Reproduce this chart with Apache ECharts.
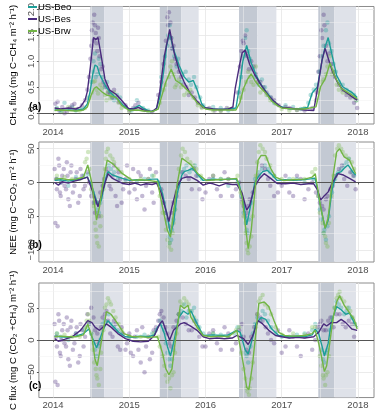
<!DOCTYPE html>
<html>
<head>
<meta charset="UTF-8">
<title>Flux panels</title>
<script src="https://cdn.jsdelivr.net/npm/echarts@6/dist/echarts.min.js"></script>
<style>
  html, body { margin: 0; padding: 0; background: #fff; }
  #main { width: 375px; height: 413px; }
</style>
</head>
<body>
<div id="main"></div>
<script>
// sites
var sites = ['US-Beo', 'US-Bes', 'US-Brw'];
var siteColors = ['#1c9e98', '#4a2b7d', '#72b545'];
var yearTicks = [2014, 2015, 2016, 2017, 2018];
var halfYears = [2014.5, 2015.5, 2016.5, 2017.5];

// growing season bands (decimal years): dark = peak, light = late season
var darkBands = [[2014.488, 2014.67], [2015.40, 2015.68], [2016.44, 2016.68], [2017.48, 2017.69]];
var lightBands = [[2014.67, 2014.917], [2015.68, 2015.91], [2016.68, 2016.93], [2017.69, 2017.975]];

// panel (a) CH4 flux, smoothed lines
var aBeo = [[2014.02,0.06],[2014.1,0.05],[2014.2,0.06],[2014.3,0.05],[2014.4,0.08],[2014.45,0.18],[2014.49,0.45],[2014.52,0.75],[2014.55,0.93],[2014.58,0.9],[2014.61,0.75],[2014.66,0.6],[2014.7,0.5],[2014.74,0.42],[2014.8,0.33],[2014.86,0.25],[2014.92,0.15],[2015.0,0.07],[2015.07,0.1],[2015.13,0.15],[2015.2,0.08],[2015.28,0.03],[2015.35,0.06],[2015.4,0.3],[2015.45,0.8],[2015.49,1.3],[2015.53,1.56],[2015.56,1.35],[2015.59,1.19],[2015.655,0.92],[2015.72,0.7],[2015.78,0.6],[2015.84,0.63],[2015.89,0.45],[2015.95,0.18],[2016.0,0.1],[2016.1,0.08],[2016.2,0.07],[2016.3,0.08],[2016.4,0.1],[2016.45,0.55],[2016.49,1.0],[2016.54,1.31],[2016.6,0.97],[2016.66,0.75],[2016.71,0.6],[2016.79,0.42],[2016.87,0.27],[2016.96,0.14],[2017.05,0.1],[2017.13,0.08],[2017.25,0.09],[2017.34,0.11],[2017.4,0.39],[2017.47,0.51],[2017.53,1.03],[2017.57,1.28],[2017.61,1.46],[2017.655,1.16],[2017.72,0.73],[2017.8,0.51],[2017.93,0.39],[2017.99,0.3]];
var aBes = [[2014.02,0.1],[2014.1,0.08],[2014.2,0.1],[2014.3,0.08],[2014.36,0.12],[2014.42,0.25],[2014.45,0.42],[2014.49,0.9],[2014.53,1.46],[2014.56,1.42],[2014.59,1.46],[2014.64,1.03],[2014.68,0.66],[2014.74,0.45],[2014.83,0.36],[2014.91,0.23],[2014.99,0.09],[2015.06,0.08],[2015.12,0.11],[2015.2,0.05],[2015.3,0.03],[2015.36,0.1],[2015.4,0.42],[2015.46,1.1],[2015.53,1.62],[2015.59,1.16],[2015.655,0.82],[2015.72,0.6],[2015.8,0.38],[2015.89,0.23],[2015.97,0.11],[2016.1,0.08],[2016.2,0.07],[2016.3,0.08],[2016.36,0.12],[2016.39,0.48],[2016.45,0.95],[2016.48,1.16],[2016.52,1.22],[2016.58,0.94],[2016.64,0.76],[2016.73,0.54],[2016.83,0.33],[2016.92,0.2],[2017.0,0.11],[2017.1,0.1],[2017.2,0.08],[2017.3,0.06],[2017.42,0.05],[2017.47,0.48],[2017.53,1.03],[2017.57,1.25],[2017.61,1.06],[2017.655,0.85],[2017.72,0.63],[2017.8,0.45],[2017.91,0.33],[2017.99,0.25]];
var aBrw = [[2014.02,0.05],[2014.1,0.06],[2014.2,0.05],[2014.3,0.04],[2014.4,0.06],[2014.45,0.12],[2014.5,0.35],[2014.54,0.48],[2014.57,0.51],[2014.61,0.45],[2014.65,0.4],[2014.7,0.35],[2014.75,0.33],[2014.83,0.3],[2014.9,0.15],[2015.0,0.05],[2015.1,0.06],[2015.2,0.04],[2015.3,0.03],[2015.38,0.08],[2015.42,0.3],[2015.48,0.6],[2015.55,0.85],[2015.61,0.63],[2015.675,0.57],[2015.78,0.42],[2015.89,0.2],[2016.0,0.08],[2016.1,0.06],[2016.25,0.06],[2016.4,0.06],[2016.45,0.2],[2016.5,0.48],[2016.55,0.65],[2016.6,0.76],[2016.65,0.62],[2016.71,0.51],[2016.79,0.39],[2016.87,0.23],[2016.95,0.14],[2017.0,0.1],[2017.15,0.08],[2017.3,0.08],[2017.45,0.12],[2017.51,0.51],[2017.57,0.66],[2017.635,0.97],[2017.7,0.7],[2017.78,0.48],[2017.91,0.36],[2017.99,0.28]];

// panel (a) daily points
var aBeoPts = [[2014.05,0.1],[2014.15,0.2],[2014.3,0.05],[2014.45,0.3],[2014.52,0.8],[2014.55,1.15],[2014.58,0.75],[2014.62,0.95],[2014.68,0.5],[2014.74,0.4],[2014.8,0.25],[2014.88,0.3],[2015.1,0.25],[2015.18,0.1],[2015.42,0.7],[2015.5,1.3],[2015.53,1.7],[2015.57,1.25],[2015.62,0.9],[2015.7,0.75],[2015.78,0.65],[2015.85,0.7],[2015.93,0.3],[2016.1,0.12],[2016.3,0.05],[2016.47,0.7],[2016.52,1.45],[2016.56,1.2],[2016.62,0.85],[2016.7,0.55],[2016.78,0.5],[2016.85,0.3],[2017.05,0.15],[2017.25,0.08],[2017.38,0.35],[2017.45,0.55],[2017.52,1.1],[2017.58,1.6],[2017.62,1.35],[2017.68,0.95],[2017.75,0.6],[2017.85,0.45],[2017.95,0.35],
  [2014.1,0.02],[2014.25,0.12],[2014.38,0.08],[2014.5,0.6],[2014.53,1.0],[2014.56,0.7],[2014.6,1.05],[2014.65,0.7],[2014.71,0.6],[2014.77,0.3],[2014.84,0.35],[2014.95,0.12],[2015.03,0.05],[2015.25,0.05],[2015.47,1.1],[2015.51,1.5],[2015.55,1.45],[2015.59,1.1],[2015.64,1.05],[2015.68,0.6],[2015.74,0.8],[2015.81,0.55],[2015.88,0.5],[2015.97,0.15],[2016.2,0.1],[2016.44,0.4],[2016.5,1.1],[2016.54,1.6],[2016.58,1.05],[2016.65,0.7],[2016.74,0.65],[2016.82,0.35],[2016.9,0.2],[2017.15,0.12],[2017.35,0.2],[2017.42,0.45],[2017.49,0.8],[2017.55,1.3],[2017.6,1.75],[2017.65,1.2],[2017.71,0.8],[2017.8,0.55],[2017.9,0.4],[2017.98,0.25]];
var aBesPts = [[2014.03,0.18],[2014.08,0.05],[2014.12,0.12],[2014.18,0.02],[2014.25,0.15],[2014.32,0.08],[2014.42,0.25],[2014.47,0.7],[2014.5,1.3],[2014.52,1.75],[2014.54,1.9],[2014.56,1.55],[2014.58,1.2],[2014.6,1.45],[2014.63,0.85],[2014.66,0.6],[2014.7,0.5],[2014.75,0.38],[2014.8,0.45],[2014.86,0.22],[2014.95,0.15],[2015.05,0.1],[2015.12,0.2],[2015.2,0.06],[2015.38,0.35],[2015.45,0.95],[2015.5,1.85],[2015.52,1.95],[2015.55,1.45],[2015.58,1.3],[2015.62,0.95],[2015.68,0.7],[2015.75,0.5],[2015.82,0.4],[2015.9,0.2],[2016.05,0.1],[2016.2,0.05],[2016.35,0.08],[2016.45,0.9],[2016.49,1.4],[2016.52,1.5],[2016.55,1.1],[2016.6,1.0],[2016.66,0.75],[2016.72,0.6],[2016.8,0.4],[2016.9,0.25],[2017.05,0.12],[2017.2,0.06],[2017.4,0.1],[2017.48,0.8],[2017.52,1.6],[2017.55,1.9],[2017.58,1.3],[2017.62,1.15],[2017.68,0.8],[2017.75,0.55],[2017.85,0.35],[2017.95,0.2],[2017.99,0.1],
  [2014.06,0.22],[2014.15,0.0],[2014.22,0.1],[2014.28,0.18],[2014.38,0.15],[2014.45,0.45],[2014.49,1.05],[2014.51,1.6],[2014.53,1.4],[2014.55,1.7],[2014.57,1.35],[2014.59,1.65],[2014.61,1.1],[2014.65,0.9],[2014.68,0.55],[2014.72,0.4],[2014.78,0.3],[2014.84,0.3],[2014.9,0.18],[2015.0,0.05],[2015.08,0.15],[2015.15,0.08],[2015.3,0.02],[2015.42,0.6],[2015.48,1.4],[2015.51,1.7],[2015.54,1.75],[2015.56,1.25],[2015.6,1.05],[2015.65,0.8],[2015.71,0.55],[2015.78,0.35],[2015.86,0.3],[2015.95,0.12],[2016.12,0.05],[2016.28,0.1],[2016.42,0.4],[2016.47,1.2],[2016.5,1.35],[2016.53,1.15],[2016.57,0.85],[2016.63,0.9],[2016.69,0.6],[2016.76,0.5],[2016.86,0.3],[2016.96,0.15],[2017.1,0.1],[2017.3,0.05],[2017.46,0.4],[2017.5,1.1],[2017.53,1.45],[2017.56,1.7],[2017.6,1.0],[2017.65,0.95],[2017.7,0.7],[2017.8,0.45],[2017.9,0.3]];
var aBrwPts = [[2014.05,0.08],[2014.2,0.12],[2014.35,0.05],[2014.48,0.3],[2014.53,0.6],[2014.57,0.45],[2014.62,0.55],[2014.68,0.35],[2014.75,0.28],[2014.8,0.4],[2014.9,0.1],[2015.1,0.08],[2015.25,0.02],[2015.45,0.45],[2015.52,0.7],[2015.56,1.0],[2015.6,0.5],[2015.65,0.65],[2015.72,0.35],[2015.8,0.45],[2015.9,0.15],[2016.1,0.05],[2016.3,0.08],[2016.5,0.45],[2016.56,0.8],[2016.6,0.6],[2016.66,0.9],[2016.72,0.4],[2016.8,0.35],[2016.92,0.18],[2017.1,0.05],[2017.3,0.1],[2017.45,0.25],[2017.52,0.6],[2017.58,0.75],[2017.63,1.1],[2017.68,0.8],[2017.75,0.45],[2017.85,0.4],[2017.95,0.3],
  [2014.12,0.04],[2014.28,0.08],[2014.42,0.1],[2014.51,0.4],[2014.55,0.62],[2014.59,0.38],[2014.64,0.48],[2014.7,0.25],[2014.72,0.42],[2014.78,0.35],[2014.86,0.2],[2015.0,0.03],[2015.18,0.06],[2015.4,0.2],[2015.48,0.55],[2015.54,0.9],[2015.58,0.75],[2015.62,0.55],[2015.68,0.5],[2015.76,0.4],[2015.84,0.3],[2015.95,0.1],[2016.2,0.04],[2016.46,0.3],[2016.53,0.6],[2016.58,0.7],[2016.63,0.55],[2016.69,0.6],[2016.76,0.45],[2016.85,0.25],[2017.0,0.08],[2017.2,0.06],[2017.48,0.45],[2017.55,0.65],[2017.6,0.9],[2017.66,0.75],[2017.72,0.55],[2017.8,0.4],[2017.9,0.35],[2017.98,0.25]];

// panel (b) NEE, smoothed lines
var bBeo = [[2014.02,3],[2014.1,4],[2014.2,2],[2014.3,4],[2014.4,6],[2014.45,8],[2014.51,-6],[2014.59,-34],[2014.635,-26],[2014.68,1],[2014.72,16],[2014.78,11],[2014.91,6],[2015.0,3],[2015.1,4],[2015.2,3],[2015.3,5],[2015.37,5],[2015.435,-16],[2015.5,-51],[2015.54,-76],[2015.58,-61],[2015.63,-16],[2015.69,11],[2015.72,16],[2015.77,18],[2015.83,21],[2015.89,13],[2015.97,3],[2016.1,5],[2016.2,4],[2016.3,5],[2016.4,5],[2016.44,-1.5],[2016.5,-31],[2016.54,-63],[2016.58,-41],[2016.645,-1.5],[2016.69,8],[2016.75,16],[2016.81,18],[2016.875,11],[2016.94,3],[2017.05,4],[2017.15,3],[2017.25,4],[2017.35,5],[2017.44,6],[2017.51,-36],[2017.57,-68],[2017.61,-56],[2017.66,-11],[2017.72,13],[2017.78,16],[2017.82,21],[2017.87,26],[2017.93,16],[2017.97,11]];
var bBes = [[2014.02,0],[2014.07,-4],[2014.12,1],[2014.2,-1],[2014.28,2],[2014.35,4],[2014.4,6],[2014.45,8],[2014.51,-11],[2014.59,-36],[2014.66,-9],[2014.72,13],[2014.78,6],[2014.85,2],[2014.91,-1.5],[2015.0,-3],[2015.08,-1],[2015.15,-4],[2015.22,-2],[2015.3,-3],[2015.36,-1],[2015.42,-16],[2015.48,-41],[2015.52,-58],[2015.56,-36],[2015.63,-6],[2015.69,6],[2015.75,8],[2015.81,8],[2015.89,3],[2015.97,-4],[2016.05,-1],[2016.1,-2],[2016.18,-5],[2016.27,-1.5],[2016.35,-3],[2016.41,-3],[2016.48,-16],[2016.54,-41],[2016.58,-34],[2016.645,-6],[2016.71,6],[2016.77,13],[2016.855,6],[2016.94,-1.5],[2017.05,-2],[2017.15,-1],[2017.25,-3],[2017.35,-2],[2017.42,-2],[2017.47,-11],[2017.51,-26],[2017.55,-21],[2017.61,-14],[2017.67,1],[2017.74,13],[2017.81,11],[2017.89,6],[2017.97,1]];
var bBrw = [[2014.02,5],[2014.1,6],[2014.2,4],[2014.3,5],[2014.4,8],[2014.455,26],[2014.51,-1.5],[2014.57,-56],[2014.61,-36],[2014.66,3],[2014.71,33],[2014.78,28],[2014.91,13],[2015.04,3],[2015.15,4],[2015.25,3],[2015.37,1],[2015.435,-36],[2015.5,-71],[2015.54,-81],[2015.58,-46],[2015.63,-1.5],[2015.69,36],[2015.75,31],[2015.81,26],[2015.9,13],[2016.01,3],[2016.15,4],[2016.3,5],[2016.41,6],[2016.48,-21],[2016.52,-61],[2016.56,-98],[2016.6,-71],[2016.645,-16],[2016.69,33],[2016.73,40],[2016.79,40],[2016.855,21],[2016.92,8],[2017.02,3],[2017.15,4],[2017.3,5],[2017.4,8],[2017.44,13],[2017.51,-36],[2017.57,-68],[2017.61,-52],[2017.66,-1.5],[2017.72,45],[2017.76,50],[2017.82,38],[2017.89,33],[2017.97,13]];

// panel (b) daily points
var bBeoPts = [[2014.05,5],[2014.2,-5],[2014.4,10],[2014.52,-15],[2014.58,-40],[2014.62,-30],[2014.7,10],[2014.76,20],[2014.85,5],[2015.1,0],[2015.3,10],[2015.45,-30],[2015.5,-60],[2015.53,-90],[2015.56,-70],[2015.6,-40],[2015.68,15],[2015.75,25],[2015.82,20],[2015.9,10],[2016.1,5],[2016.3,-5],[2016.47,-20],[2016.52,-60],[2016.55,-75],[2016.6,-30],[2016.7,15],[2016.78,25],[2016.85,15],[2017.1,5],[2017.3,0],[2017.5,-40],[2017.55,-75],[2017.58,-85],[2017.62,-50],[2017.7,5],[2017.78,20],[2017.85,30],[2017.92,15],
  [2014.1,0],[2014.3,8],[2014.46,12],[2014.55,-30],[2014.6,-45],[2014.66,-5],[2014.73,25],[2014.8,15],[2014.95,3],[2015.2,5],[2015.38,0],[2015.48,-45],[2015.52,-80],[2015.55,-85],[2015.58,-55],[2015.64,-5],[2015.72,20],[2015.79,15],[2015.86,25],[2015.95,5],[2016.2,5],[2016.42,0],[2016.5,-45],[2016.54,-70],[2016.57,-55],[2016.65,5],[2016.74,20],[2016.82,20],[2016.9,10],[2017.2,5],[2017.42,5],[2017.52,-55],[2017.56,-70],[2017.6,-65],[2017.66,-15],[2017.74,15],[2017.82,25],[2017.88,35],[2017.95,10]];
var bBesPts = [[2014.02,20],[2014.05,-10],[2014.08,25],[2014.1,-20],[2014.12,10],[2014.15,-5],[2014.18,30],[2014.2,-25],[2014.23,15],[2014.26,-15],[2014.3,5],[2014.33,-30],[2014.36,20],[2014.4,-10],[2014.03,-60],[2014.06,-65],[2014.45,15],[2014.5,-20],[2014.55,-45],[2014.58,-30],[2014.62,-15],[2014.67,5],[2014.7,20],[2014.74,-5],[2014.78,10],[2014.82,-20],[2014.86,15],[2014.9,-30],[2014.95,5],[2015.0,-15],[2015.05,20],[2015.1,-25],[2015.15,10],[2015.2,-40],[2015.25,5],[2015.3,-15],[2015.35,15],[2015.45,-30],[2015.5,-55],[2015.55,-45],[2015.62,-20],[2015.7,15],[2015.78,5],[2015.85,20],[2015.92,-10],[2016.0,-15],[2016.1,10],[2016.2,-20],[2016.3,5],[2016.4,-10],[2016.48,-25],[2016.52,-50],[2016.56,-35],[2016.62,-15],[2016.7,10],[2016.78,20],[2016.85,-5],[2016.95,-15],[2017.05,10],[2017.15,-20],[2017.25,5],[2017.35,-10],[2017.45,-15],[2017.5,-30],[2017.55,-40],[2017.6,-20],[2017.67,-5],[2017.75,20],[2017.82,5],[2017.9,15],[2017.97,-10],
  [2014.04,5],[2014.07,35],[2014.09,-15],[2014.11,0],[2014.14,20],[2014.17,-10],[2014.19,10],[2014.22,-35],[2014.24,25],[2014.28,-5],[2014.31,15],[2014.35,-20],[2014.38,10],[2014.42,-5],[2014.47,0],[2014.53,-30],[2014.6,-50],[2014.65,-5],[2014.72,15],[2014.76,-10],[2014.8,25],[2014.84,-35],[2014.88,5],[2014.92,-10],[2014.97,25],[2015.02,0],[2015.07,-10],[2015.12,15],[2015.17,-20],[2015.22,-5],[2015.27,20],[2015.32,-30],[2015.38,0],[2015.42,-10],[2015.48,-45],[2015.52,-65],[2015.58,-30],[2015.65,0],[2015.74,10],[2015.82,-10],[2015.88,10],[2015.96,-25],[2016.05,5],[2016.15,-10],[2016.25,15],[2016.35,-20],[2016.44,0],[2016.5,-35],[2016.54,-45],[2016.58,-25],[2016.66,0],[2016.74,25],[2016.82,5],[2016.9,-20],[2017.0,-5],[2017.1,-15],[2017.2,10],[2017.3,-25],[2017.4,0],[2017.48,-20],[2017.53,-35],[2017.58,-25],[2017.64,-10],[2017.71,10],[2017.79,25],[2017.86,-5],[2017.94,10]];
var bBrwPts = [[2014.05,10],[2014.25,5],[2014.42,30],[2014.46,45],[2014.5,-10],[2014.55,-60],[2014.57,-80],[2014.6,-95],[2014.63,-50],[2014.68,20],[2014.7,45],[2014.75,40],[2014.8,30],[2014.9,15],[2015.15,5],[2015.32,10],[2015.4,-20],[2015.48,-70],[2015.52,-95],[2015.55,-100],[2015.58,-60],[2015.62,-15],[2015.68,40],[2015.73,45],[2015.8,30],[2015.88,20],[2016.1,10],[2016.3,5],[2016.46,-15],[2016.5,-50],[2016.54,-90],[2016.56,-105],[2016.6,-80],[2016.66,10],[2016.7,45],[2016.75,50],[2016.8,35],[2016.9,10],[2017.15,5],[2017.4,15],[2017.48,-20],[2017.53,-60],[2017.57,-80],[2017.6,-95],[2017.65,-20],[2017.7,40],[2017.75,55],[2017.8,45],[2017.88,35],[2017.95,20],
  [2014.15,8],[2014.35,5],[2014.44,35],[2014.48,20],[2014.53,-35],[2014.56,-70],[2014.58,-90],[2014.62,-65],[2014.66,-10],[2014.69,35],[2014.72,50],[2014.78,35],[2014.85,20],[2015.0,5],[2015.25,5],[2015.38,0],[2015.44,-45],[2015.5,-85],[2015.53,-90],[2015.57,-75],[2015.6,-40],[2015.65,20],[2015.7,50],[2015.76,35],[2015.84,25],[2015.94,10],[2016.2,5],[2016.42,10],[2016.48,-30],[2016.52,-75],[2016.55,-100],[2016.58,-95],[2016.62,-50],[2016.68,30],[2016.72,55],[2016.78,45],[2016.85,25],[2017.0,5],[2017.3,5],[2017.44,20],[2017.5,-45],[2017.55,-75],[2017.58,-90],[2017.62,-60],[2017.68,10],[2017.73,50],[2017.78,50],[2017.84,40],[2017.92,30]];

// panel (c) C flux, smoothed lines
var cBeo = [[2014.02,6],[2014.1,5],[2014.2,4],[2014.3,6],[2014.4,10],[2014.47,17],[2014.51,5],[2014.57,-12],[2014.61,0],[2014.66,17],[2014.72,30],[2014.78,22],[2014.86,12],[2014.95,5],[2015.05,4],[2015.15,6],[2015.25,5],[2015.33,8],[2015.37,20],[2015.41,25],[2015.46,10],[2015.5,-10],[2015.54,-25],[2015.58,-5],[2015.65,35],[2015.71,45],[2015.77,40],[2015.81,45],[2015.89,25],[2015.97,7],[2016.1,8],[2016.2,7],[2016.3,8],[2016.41,15],[2016.455,12],[2016.52,-15],[2016.56,-22],[2016.615,2],[2016.66,25],[2016.73,35],[2016.79,32],[2016.87,17],[2016.96,7],[2017.1,5],[2017.2,6],[2017.3,5],[2017.4,8],[2017.44,17],[2017.485,10],[2017.53,-10],[2017.56,-25],[2017.61,-5],[2017.65,27],[2017.72,52],[2017.78,47],[2017.84,40],[2017.89,42],[2017.95,27],[2017.99,20]];
var cBes = [[2014.02,2],[2014.07,-2],[2014.15,1],[2014.25,5],[2014.36,15],[2014.455,30],[2014.51,27],[2014.55,20],[2014.61,15],[2014.7,25],[2014.76,20],[2014.85,10],[2014.95,2],[2015.05,-2],[2015.15,-3],[2015.25,-2],[2015.33,7],[2015.4,25],[2015.435,30],[2015.48,15],[2015.53,0],[2015.58,15],[2015.67,25],[2015.72,27],[2015.8,22],[2015.89,15],[2015.97,5],[2016.05,2],[2016.15,3],[2016.25,2],[2016.35,3],[2016.41,7],[2016.5,2],[2016.56,-7],[2016.615,5],[2016.69,30],[2016.75,25],[2016.83,15],[2016.92,7],[2017.0,5],[2017.1,3],[2017.2,4],[2017.3,3],[2017.42,5],[2017.485,12],[2017.55,25],[2017.59,22],[2017.65,27],[2017.72,27],[2017.78,32],[2017.84,27],[2017.92,17],[2017.99,15]];
var cBrw = [[2014.02,5],[2014.1,6],[2014.2,5],[2014.3,5],[2014.4,8],[2014.455,25],[2014.51,5],[2014.55,-30],[2014.58,-40],[2014.63,-5],[2014.7,44],[2014.76,40],[2014.85,25],[2014.93,10],[2015.04,5],[2015.15,5],[2015.25,4],[2015.37,5],[2015.435,-20],[2015.48,-45],[2015.52,-54],[2015.56,-45],[2015.6,-5],[2015.67,54],[2015.72,49],[2015.77,54],[2015.81,35],[2015.89,20],[2015.97,7],[2016.07,5],[2016.2,6],[2016.3,5],[2016.41,15],[2016.455,-10],[2016.5,-40],[2016.54,-74],[2016.57,-77],[2016.615,-40],[2016.66,10],[2016.7,57],[2016.77,59],[2016.83,52],[2016.9,30],[2016.96,12],[2017.04,7],[2017.15,6],[2017.3,7],[2017.4,10],[2017.44,15],[2017.485,-5],[2017.53,-30],[2017.56,-49],[2017.59,-40],[2017.63,-5],[2017.675,35],[2017.72,59],[2017.76,69],[2017.82,54],[2017.89,42],[2017.95,32],[2017.99,17]];

// panel (c) daily points
var cBeoPts = [[2014.05,10],[2014.2,0],[2014.4,15],[2014.47,25],[2014.53,-5],[2014.57,-25],[2014.62,0],[2014.68,30],[2014.73,40],[2014.8,20],[2014.9,10],[2015.1,5],[2015.3,10],[2015.4,30],[2015.46,15],[2015.5,-20],[2015.54,-40],[2015.58,-15],[2015.65,40],[2015.72,55],[2015.78,45],[2015.85,50],[2015.92,20],[2016.1,10],[2016.3,5],[2016.42,20],[2016.52,-20],[2016.56,-35],[2016.62,10],[2016.68,35],[2016.75,45],[2016.82,30],[2016.92,10],[2017.1,5],[2017.3,10],[2017.44,25],[2017.52,-15],[2017.56,-35],[2017.6,-15],[2017.66,35],[2017.72,60],[2017.78,50],[2017.85,45],[2017.92,35],
  [2014.1,5],[2014.3,10],[2014.44,20],[2014.5,10],[2014.55,-15],[2014.6,-10],[2014.65,25],[2014.76,25],[2014.85,15],[2015.0,5],[2015.2,8],[2015.35,15],[2015.43,25],[2015.48,-5],[2015.52,-30],[2015.56,-30],[2015.62,20],[2015.68,45],[2015.75,35],[2015.82,45],[2015.88,30],[2015.97,10],[2016.2,8],[2016.38,10],[2016.48,5],[2016.54,-25],[2016.59,-10],[2016.65,25],[2016.72,30],[2016.78,40],[2016.86,20],[2017.0,5],[2017.2,8],[2017.4,15],[2017.48,15],[2017.54,-30],[2017.58,-20],[2017.63,15],[2017.7,50],[2017.75,55],[2017.82,40],[2017.88,50],[2017.96,25]];
var cBesPts = [[2014.02,25],[2014.05,-10],[2014.08,30],[2014.1,-25],[2014.12,15],[2014.15,-5],[2014.18,35],[2014.2,-30],[2014.23,20],[2014.26,-15],[2014.3,10],[2014.33,-35],[2014.36,25],[2014.4,-10],[2014.03,-65],[2014.06,-70],[2014.45,40],[2014.5,50],[2014.55,15],[2014.6,-5],[2014.65,35],[2014.7,45],[2014.75,10],[2014.8,30],[2014.85,-10],[2014.9,20],[2014.95,-15],[2015.0,10],[2015.05,-25],[2015.1,15],[2015.15,-35],[2015.2,-50],[2015.25,5],[2015.3,-20],[2015.35,20],[2015.4,40],[2015.45,35],[2015.5,10],[2015.55,-10],[2015.62,30],[2015.7,35],[2015.78,15],[2015.85,30],[2015.92,5],[2016.0,-10],[2016.1,15],[2016.2,-15],[2016.3,10],[2016.4,-5],[2016.48,25],[2016.54,-15],[2016.6,5],[2016.68,40],[2016.75,30],[2016.82,10],[2016.9,-5],[2017.0,-20],[2017.1,15],[2017.2,-10],[2017.3,5],[2017.4,-15],[2017.47,20],[2017.52,30],[2017.58,15],[2017.64,35],[2017.72,40],[2017.8,25],[2017.88,30],[2017.95,5],
  [2014.04,5],[2014.07,40],[2014.09,-20],[2014.11,0],[2014.14,25],[2014.17,-10],[2014.19,15],[2014.22,-40],[2014.24,30],[2014.28,-5],[2014.31,20],[2014.35,-25],[2014.38,15],[2014.42,5],[2014.47,25],[2014.53,35],[2014.58,10],[2014.63,20],[2014.68,40],[2014.72,30],[2014.78,5],[2014.82,25],[2014.88,-15],[2014.92,10],[2014.97,-5],[2015.02,-20],[2015.07,5],[2015.12,-15],[2015.17,20],[2015.22,-10],[2015.27,-30],[2015.32,15],[2015.38,30],[2015.42,45],[2015.48,20],[2015.52,-5],[2015.58,20],[2015.65,40],[2015.74,25],[2015.82,15],[2015.88,25],[2015.96,-10],[2016.05,10],[2016.15,-5],[2016.25,20],[2016.35,-15],[2016.44,15],[2016.5,5],[2016.57,-20],[2016.64,20],[2016.72,35],[2016.79,20],[2016.86,0],[2016.95,15],[2017.05,-10],[2017.15,5],[2017.25,-25],[2017.35,10],[2017.44,0],[2017.5,25],[2017.55,15],[2017.61,30],[2017.68,20],[2017.76,40],[2017.84,20],[2017.92,25]];
var cBrwPts = [[2014.05,10],[2014.25,5],[2014.42,20],[2014.46,40],[2014.5,10],[2014.54,-35],[2014.57,-55],[2014.6,-70],[2014.63,-20],[2014.68,50],[2014.72,65],[2014.76,55],[2014.82,35],[2014.9,15],[2015.15,5],[2015.32,10],[2015.4,-10],[2015.46,-40],[2015.5,-65],[2015.54,-75],[2015.58,-50],[2015.62,10],[2015.67,60],[2015.72,65],[2015.78,55],[2015.85,35],[2016.1,10],[2016.3,5],[2016.44,20],[2016.5,-45],[2016.54,-75],[2016.57,-85],[2016.6,-60],[2016.66,20],[2016.7,60],[2016.75,70],[2016.82,50],[2016.92,20],[2017.15,10],[2017.4,20],[2017.5,-25],[2017.54,-55],[2017.57,-70],[2017.6,-50],[2017.66,30],[2017.72,65],[2017.76,75],[2017.82,60],[2017.9,45],[2017.96,25],
  [2014.15,8],[2014.35,5],[2014.44,30],[2014.48,30],[2014.52,-15],[2014.56,-45],[2014.58,-60],[2014.62,-45],[2014.66,15],[2014.7,55],[2014.74,60],[2014.79,45],[2014.86,25],[2015.0,5],[2015.25,5],[2015.38,5],[2015.44,-25],[2015.48,-55],[2015.52,-60],[2015.56,-55],[2015.6,-20],[2015.65,40],[2015.7,55],[2015.75,60],[2015.8,45],[2015.9,20],[2016.2,5],[2016.4,15],[2016.47,-20],[2016.52,-60],[2016.55,-80],[2016.58,-75],[2016.62,-35],[2016.68,40],[2016.72,65],[2016.78,55],[2016.86,40],[2017.0,8],[2017.3,8],[2017.44,20],[2017.52,-40],[2017.55,-60],[2017.58,-55],[2017.62,-25],[2017.69,50],[2017.74,70],[2017.78,65],[2017.86,50],[2017.93,35]];

// y ticks per panel
var aTicks = [0, 0.5, 1, 1.5, 2];
var aMinor = [0.25, 0.75, 1.25, 1.75];
var bTicks = [-100, -50, 0, 50];
var bMinor = [-75, -25, 25];
var cTicks = [-50, 0, 50];
var cMinor = [-75, -25, 25, 75];

var panels = [
  { top: 1, height: 123, yMin: -0.21, yMax: 2.06, ticks: aTicks, minor: aMinor, dec: 1, label: '(a)',
    name: 'CH\u2084 flux (mg C\u2212CH\u2084 m\u207B\u00B2 h\u207B\u00B9)',
    lines: [aBeo, aBes, aBrw], pts: [aBeoPts, aBesPts, aBrwPts] },
  { top: 142, height: 120, yMin: -118, yMax: 60, ticks: bTicks, minor: bMinor, dec: 0, label: '(b)',
    name: 'NEE (mg C\u2212CO\u2082 m\u207B\u00B2 h\u207B\u00B9)',
    lines: [bBeo, bBes, bBrw], pts: [bBeoPts, bBesPts, bBrwPts] },
  { top: 283, height: 120, yMin: -89.5, yMax: 88.6, ticks: cTicks, minor: cMinor, dec: 0, label: '(c)',
    name: 'C flux (mg C (CO\u2082 +CH\u2084) m\u207B\u00B2 h\u207B\u00B9)',
    lines: [cBeo, cBes, cBrw], pts: [cBeoPts, cBesPts, cBrwPts] }
];

var font = 'Liberation Sans, Arial, sans-serif';
var chart = echarts.init(document.getElementById('main'));
var grids = [], xAxes = [], yAxes = [], series = [], graphics = [];

panels.forEach(function (p, i) {
  grids.push({ left: 26, right: 1, top: p.top, height: p.height, show: true,
    backgroundColor: '#fff', borderColor: '#8c8c8c', borderWidth: 1 });
  xAxes.push({
    type: 'value', gridIndex: i, min: 2013.814, max: 2018.211,
    axisLine: { show: false },
    axisTick: { show: true, length: 2, customValues: yearTicks, lineStyle: { color: '#555' } },
    axisLabel: { customValues: yearTicks, fontSize: 9.5, color: '#4d4d4d', margin: 3, fontFamily: font,
      formatter: function (v) { return String(Math.round(v)); } },
    splitLine: { show: true, lineStyle: { color: '#e6e6e6', width: 0.8 } }
  });
  yAxes.push({
    type: 'value', gridIndex: i, min: p.yMin, max: p.yMax,
    name: p.name, nameLocation: 'middle', nameRotate: 90, nameGap: 15,
    nameTextStyle: { fontSize: 9.5, color: '#000', fontFamily: font },
    axisLine: { show: false },
    axisTick: { show: true, length: 2, customValues: p.ticks, lineStyle: { color: '#555' } },
    axisLabel: { customValues: p.ticks, rotate: 90, fontSize: 9.5, color: '#4d4d4d', margin: 3, fontFamily: font,
      formatter: function (v) { return v.toFixed(p.dec).replace('-', '\u2212'); } },
    splitLine: { show: true, lineStyle: { color: '#e6e6e6', width: 0.8 } }
  });

  // minor grid lines
  var minorLines = p.minor.map(function (v) { return { yAxis: v }; })
    .concat(halfYears.map(function (v) { return { xAxis: v }; }));
  series.push({
    type: 'line', xAxisIndex: i, yAxisIndex: i, data: [], silent: true, z: 1,
    markLine: { silent: true, symbol: ['none', 'none'], label: { show: false },
      lineStyle: { color: '#f0f0f0', width: 0.5, type: 'solid' }, data: minorLines }
  });

  // seasonal bands
  var areas = [];
  darkBands.forEach(function (b) {
    areas.push([{ xAxis: b[0], itemStyle: { color: '#c3c9d3' } }, { xAxis: b[1] }]);
  });
  lightBands.forEach(function (b) {
    areas.push([{ xAxis: b[0], itemStyle: { color: '#dfe2e9' } }, { xAxis: b[1] }]);
  });
  series.push({
    type: 'line', xAxisIndex: i, yAxisIndex: i, data: [], silent: true, z: 2,
    markArea: { silent: true, data: areas }
  });

  // points
  p.pts.forEach(function (d, k) {
    series.push({
      name: sites[k] + ' daily', type: 'scatter', xAxisIndex: i, yAxisIndex: i, data: d,
      symbolSize: 4.5, silent: true, z: 3,
      itemStyle: { color: siteColors[k], opacity: 0.33 }
    });
  });

  // zero line
  series.push({
    type: 'line', xAxisIndex: i, yAxisIndex: i, data: [], silent: true, z: 4,
    markLine: { silent: true, symbol: ['none', 'none'], label: { show: false },
      lineStyle: { color: '#555', width: 1, type: 'solid' }, data: [{ yAxis: 0 }] }
  });

  // smoothed lines
  p.lines.forEach(function (d, k) {
    series.push({
      name: sites[k], type: 'line', xAxisIndex: i, yAxisIndex: i, data: d,
      showSymbol: false, silent: true, z: 5,
      lineStyle: { color: siteColors[k], width: 1.4 },
      itemStyle: { color: siteColors[k] }
    });
  });

  graphics.push({
    type: 'text', left: 29, top: p.top + p.height - 22,
    style: { text: p.label, fontSize: 10, fontWeight: 'bold', fill: '#000', fontFamily: font }
  });
});

chart.setOption({
  animation: false,
  grid: grids,
  xAxis: xAxes,
  yAxis: yAxes,
  legend: {
    data: sites, orient: 'vertical', left: 27, top: 1,
    itemWidth: 9, itemHeight: 2, itemGap: 2, icon: 'rect',
    textStyle: { fontSize: 9.5, color: '#000', padding: [0, 0, 0, -4], fontFamily: font },
    padding: 1
  },
  graphic: graphics,
  series: series
});
</script>
</body>
</html>
